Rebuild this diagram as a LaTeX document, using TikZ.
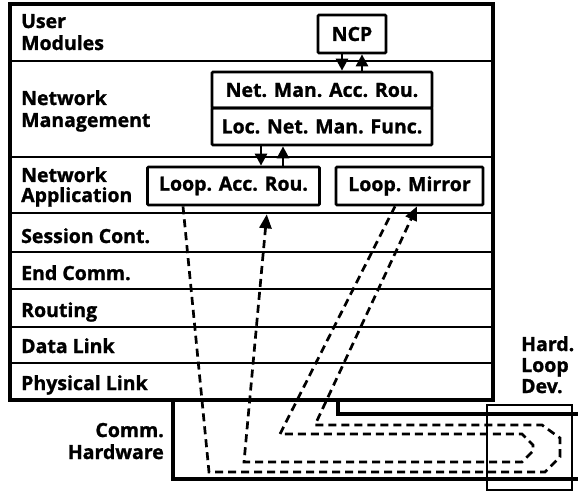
\documentclass[tikz,border=0pt]{standalone}
\usepackage{fontspec}
\setmainfont{Open Sans}[BoldFeatures={FakeBold=1.2}]
\usetikzlibrary{arrows.meta,calc}
\begin{document}
\begin{tikzpicture}[x=1pt,y=-1pt,
  lbl/.style={font=\bfseries\fontsize{19.5}{22}\selectfont, inner sep=0pt, anchor=base west},
  rlbl/.style={lbl, anchor=base east},
  box/.style={draw, line width=2.7pt, rounded corners=1pt, font=\bfseries\fontsize{19.5}{22}\selectfont, inner sep=0pt},
  frame/.style={line width=3.2pt},
  layer/.style={line width=2.8pt},
  tri/.style={-{Triangle[length=12pt,width=12pt]}, line width=2.6pt},
  dsh/.style={line width=2.7pt, dash pattern=on 8pt off 5pt},
]
\useasboundingbox (0,0) rectangle (579,495);
% protocol stack
\draw[frame] (10,4) rectangle (493,400);
\foreach \y in {61,157,213,252,289,327,363} \draw[layer] (10,\y) -- (493,\y);
% layer labels
\node[lbl] (l1a) at (21,28) {User};
\node[lbl] (l1b) at (21,50) {Modules};
\node[lbl] (l2a) at (21,105) {Network};
\node[lbl] (l2b) at (21,127) {Management};
\node[lbl] (l3a) at (21,182) {Network};
\node[lbl] (l3b) at (21,202) {Application};
\node[lbl] (l4) at (21,243) {Session Cont.};
\node[lbl] (l5) at (21,280) {End Comm.};
\node[lbl] (l6) at (21,317) {Routing};
\node[lbl] (l7) at (21,353) {Data Link};
\node[lbl] (l8) at (21,390) {Physical Link};
% inner boxes
\node[box, minimum width=68pt, minimum height=38pt] (ncp) at (352,34) {NCP};
\node[box, minimum width=220pt, minimum height=36pt] (nma) at (322,90) {Net. Man. Acc. Rou.};
\node[box, minimum width=220pt, minimum height=37pt] (loc) at (322,126.5) {Loc. Net. Man. Func.};
\node[box, minimum width=172pt, minimum height=38pt] (lar) at (233.5,186) {Loop. Acc. Rou.};
\node[box, minimum width=147pt, minimum height=38pt] (lm) at (409.5,186) {Loop. Mirror};
% arrows between boxes
\coordinate (a1) at ($(ncp.south)+(-10,0)$);
\coordinate (a2) at ($(ncp.south)+(10,0)$);
\draw[tri] (a1) -- (a1 |- nma.north);
\draw[tri] (a2 |- nma.north) -- (a2);
\coordinate (b1) at ($(loc.south)+(-61,0)$);
\coordinate (b2) at ($(loc.south)+(-39,0)$);
\draw[tri] (b1) -- (b1 |- lar.north);
\draw[tri] (b2 |- lar.north) -- (b2);
% communication hardware
\draw[frame] (173,400) -- (173,479) -- (578,479);
\draw[frame] (338,400) -- (338,414) -- (578,414);
\node[rlbl] (ch1) at (164,437) {Comm.};
\node[rlbl] (ch2) at (164,459) {Hardware};
% hardware loop device
\node[draw, line width=2.6pt, minimum width=85pt, minimum height=85pt, inner sep=0pt] (hld) at (529.5,447.5) {};
\node[lbl] (hd1) at (521,351) {Hard.};
\node[lbl] (hd2) at (521,372) {Loop};
\node[lbl] (hd3) at (521,393) {Dev.};
% dashed loop paths
\coordinate (s1) at ($(lar.south)+(-50.5,0)$);
\coordinate (e1) at ($(lm.south)+(7.5,0)$);
\draw[dsh, -{Triangle[length=14pt,width=12pt]}] (s1) -- (209,472) -- (545,472) -- (560,457) -- (560,438) -- (542,425) -- (315,425) -- (e1);
\coordinate (s2) at ($(lm.south)+(-14.5,0)$);
\coordinate (e2) at ($(lar.south)+(34,0)$);
\draw[dsh, -{Triangle[length=14pt,width=12pt]}, shorten >=8pt] (s2) -- (280,434) -- (522,434) -- (533,445) -- (533,451) -- (522,462) -- (244,462) -- (e2);
\end{tikzpicture}
\end{document}
